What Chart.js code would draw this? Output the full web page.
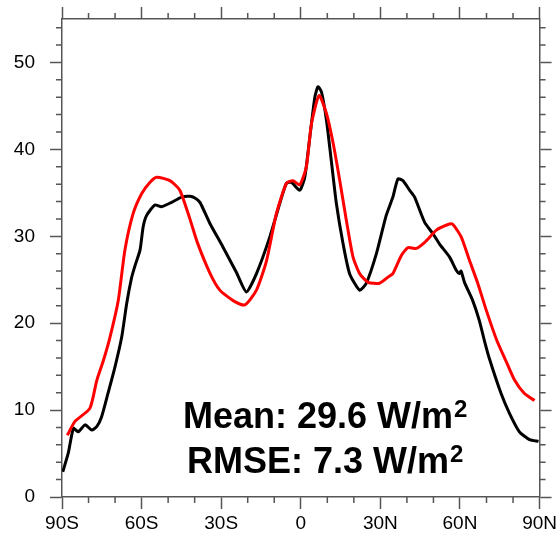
<!DOCTYPE html>
<html>
<head>
<meta charset="utf-8">
<script src="https://cdn.jsdelivr.net/npm/chart.js@4.4.1/dist/chart.umd.min.js"></script>
<style>
  body { margin: 0; background: #fff; }
  #wrap { width: 560px; height: 545px; }
</style>
</head>
<body>
<div id="wrap"><canvas id="myChart"></canvas></div>
<script>
// courbe noire (obs)
const latBlack = [-89.7, -87.6, -85.7, -83.9, -81.3, -78.8, -76.9, -75.1, -72.6, -70.0,
  -67.5, -65.6, -63.8, -62.5, -60.6, -59.4, -58.1, -55.0, -52.5, -48.7, -44.9,
  -41.8, -39.9, -38.0, -34.3, -29.4, -24.2, -20.5, -16.7, -11.7, -7.9,
  -5.4, -3.5, -0.4, 1.5, 3.4, 5.3, 6.5, 7.8, 9.7, 11.5,
  13.4, 15.9, 18.4, 22.2, 24.7, 28.5, 32.2, 34.7, 36.6, 38.5,
  41.0, 42.9, 46.7, 49.8, 52.3, 56.1, 58.6, 59.8, 60.4, 61.7,
  64.8, 67.3, 69.2, 71.1, 75.5, 78.7, 82.4, 86.2, 89.6];
const valBlack = [2.9, 5.1, 7.9, 7.5, 8.3, 7.7, 8.1, 9.2, 12.0, 15.0,
  18.4, 22.3, 25.2, 26.6, 28.4, 31.1, 32.4, 33.6, 33.4, 33.9, 34.5,
  34.6, 34.4, 33.9, 31.5, 28.8, 25.8, 23.6, 25.7, 29.9, 33.8,
  36.1, 36.2, 35.3, 36.8, 41.4, 46.0, 47.2, 46.6, 43.3, 38.7,
  33.8, 29.2, 25.7, 23.8, 24.6, 28.0, 32.4, 34.5, 36.6, 36.4,
  35.3, 34.5, 31.6, 30.3, 29.1, 27.6, 26.1, 25.7, 26.0, 24.7,
  22.6, 20.3, 18.0, 15.9, 11.9, 9.6, 7.5, 6.6, 6.4];

// courbe rouge (modele)
const latRed = [-88.0, -85.1, -79.5, -76.9, -74.4, -71.9, -68.8, -66.3, -63.2, -60.0,
  -56.9, -54.3, -49.3, -45.6, -41.8, -39.0, -34.3, -30.5, -25.5, -21.1,
  -16.7, -12.9, -9.2, -5.4, -2.9, -0.4, 2.1, 4.0, 6.9, 9.7,
  12.2, 14.7, 17.2, 19.7, 22.2, 25.4, 29.7, 32.9, 34.7, 37.9,
  40.4, 43.5, 46.7, 51.1, 55.0, 57.2, 60.5, 63.6, 66.7, 69.9,
  73.9, 77.4, 80.5, 84.3, 88.1];
const valRed = [7.1, 8.7, 10.2, 13.4, 15.7, 18.4, 22.6, 28.4, 32.6, 34.9,
  36.2, 36.8, 36.4, 35.3, 32.0, 29.3, 25.8, 23.8, 22.6, 22.1,
  23.8, 27.2, 32.6, 36.1, 36.4, 35.9, 38.0, 42.9, 46.2, 44.1,
  40.7, 36.4, 31.8, 27.6, 25.7, 24.7, 24.6, 25.3, 25.7, 27.8,
  28.7, 28.6, 29.3, 30.7, 31.3, 31.4, 29.9, 27.2, 24.6, 21.5,
  18.0, 15.6, 13.5, 11.9, 11.1];

const xTickValues = [-90, -60, -30, 0, 30, 60, 90];
const xTickLabels = ['90S', '60S', '30S', '0', '30N', '60N', '90N'];
const statLines = [['Mean: 29.6 W/m', '2'], ['RMSE: 7.3 W/m', '2']];

const axisColor = '#555';
const fontFam = '"Liberation Sans", Arial, Helvetica, sans-serif';

function toPoints(xs, ys) {
  return xs.map((x, i) => ({ x: x, y: ys[i] }));
}

// petites graduations sur les 4 cotes
const minorTicks = {
  id: 'minorTicks',
  afterDraw(chart) {
    const ctx = chart.ctx;
    const a = chart.chartArea;
    const xs = chart.scales.x;
    const ys = chart.scales.y;
    ctx.save();
    ctx.strokeStyle = axisColor;
    ctx.lineWidth = 1.5;
    ctx.beginPath();
    for (let v = -80; v < 90; v += 10) {
      if (v % 30 === 0) continue;
      const px = xs.getPixelForValue(v);
      ctx.moveTo(px, a.bottom); ctx.lineTo(px, a.bottom + 6);
      ctx.moveTo(px, a.top); ctx.lineTo(px, a.top - 6);
    }
    for (let v = 2; v < 55; v += 2) {
      if (v % 10 === 0) continue;
      const py = ys.getPixelForValue(v);
      ctx.moveTo(a.left, py); ctx.lineTo(a.left - 6, py);
      ctx.moveTo(a.right, py); ctx.lineTo(a.right + 6, py);
    }
    ctx.stroke();
    ctx.restore();
  }
};

// texte Mean / RMSE avec exposant
const statsText = {
  id: 'statsText',
  afterDraw(chart) {
    const ctx = chart.ctx;
    const a = chart.chartArea;
    const cx = a.left + (a.right - a.left) * 0.551;
    ctx.save();
    ctx.fillStyle = '#000';
    ctx.textBaseline = 'alphabetic';
    ctx.textAlign = 'left';
    statLines.forEach((line, i) => {
      const base = a.bottom - 69 + i * 45;
      ctx.font = 'bold 36px ' + fontFam;
      const w1 = ctx.measureText(line[0]).width;
      ctx.font = 'bold 24px ' + fontFam;
      const w2 = ctx.measureText(line[1]).width;
      const x0 = cx - (w1 + w2 + 1) / 2;
      ctx.font = 'bold 36px ' + fontFam;
      ctx.fillText(line[0], x0, base);
      ctx.font = 'bold 24px ' + fontFam;
      ctx.fillText(line[1], x0 + w1 + 1, base - 11);
    });
    ctx.restore();
  }
};

const gridOpts = {
  drawOnChartArea: false,
  drawTicks: true,
  tickLength: 12,
  tickWidth: 1.5,
  tickColor: axisColor
};
const borderOpts = { color: axisColor, width: 1.5 };

// pas de marge auto au dessus / en dessous pour les axes verticaux
function fixVert(w) {
  return s => { s.width = w; s.paddingTop = 0; s.paddingBottom = 0; };
}

const config = {
  type: 'line',
  data: {
    datasets: [
      {
        label: 'rouge',
        data: toPoints(latRed, valRed),
        borderColor: '#ff0000',
        borderWidth: 3,
        pointRadius: 0,
        tension: 0.2,
        fill: false
      },
      {
        label: 'noir',
        data: toPoints(latBlack, valBlack),
        borderColor: '#000000',
        borderWidth: 3,
        pointRadius: 0,
        tension: 0.2,
        fill: false
      }
    ]
  },
  options: {
    responsive: true,
    maintainAspectRatio: false,
    animation: false,
    layout: { padding: 0 },
    plugins: {
      legend: { display: false },
      tooltip: { enabled: false }
    },
    scales: {
      x: {
        type: 'linear',
        position: 'bottom',
        min: -90,
        max: 90,
        afterBuildTicks: s => { s.ticks = xTickValues.map(v => ({ value: v })); },
        afterFit: s => { s.height = 48; },
        ticks: {
          padding: 3,
          color: '#000',
          font: { family: fontFam, size: 19 },
          maxRotation: 0,
          callback: v => xTickLabels[xTickValues.indexOf(v)]
        },
        grid: gridOpts,
        border: borderOpts
      },
      x2: {
        type: 'linear',
        position: 'top',
        min: -90,
        max: 90,
        afterBuildTicks: s => { s.ticks = xTickValues.map(v => ({ value: v })); },
        afterFit: s => { s.height = 19; },
        ticks: { display: false },
        grid: gridOpts,
        border: borderOpts
      },
      y: {
        position: 'left',
        min: 0,
        max: 55,
        afterFit: fixVert(62),
        ticks: {
          stepSize: 10,
          includeBounds: false,
          padding: 15,
          color: '#000',
          font: { family: fontFam, size: 19 }
        },
        grid: gridOpts,
        border: borderOpts
      },
      y2: {
        position: 'right',
        min: 0,
        max: 55,
        afterFit: fixVert(20),
        ticks: { display: false, stepSize: 10, includeBounds: false },
        grid: gridOpts,
        border: borderOpts
      }
    }
  },
  plugins: [minorTicks, statsText]
};

const myChart = new Chart(document.getElementById('myChart'), config);
</script>
</body>
</html>
